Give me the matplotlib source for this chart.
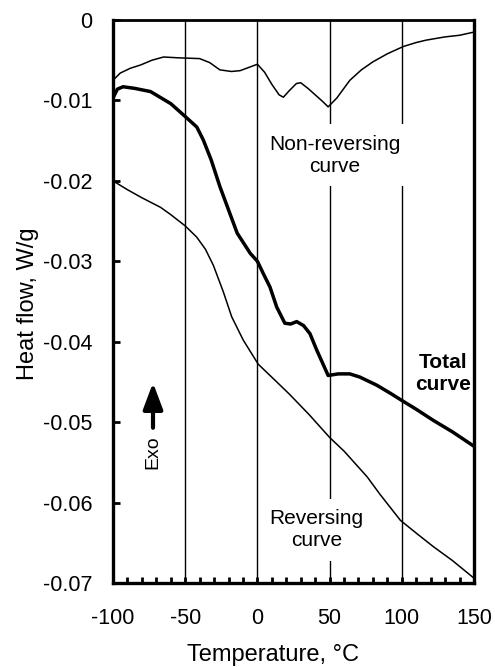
import numpy as np
import matplotlib
matplotlib.use("Agg")
import matplotlib.pyplot as plt
from matplotlib.ticker import MultipleLocator

plt.rcParams['font.family'] = ['Liberation Sans', 'DejaVu Sans']
plt.rcParams['axes.unicode_minus'] = False

# modulated DSC run: temperature (deg C) and heat flow (W/g)
t_nonrev = [-100, -95, -88, -81, -73, -65, -55, -40, -33, -26, -18, -12, -6, 0,
            5, 10, 15, 18, 22, 27, 30, 35, 40, 45, 49, 55, 64, 72, 80, 90,
            101, 110, 117, 130, 140, 150]
hf_nonrev = [-0.0075, -0.0066, -0.0060, -0.0056, -0.0050, -0.0046, -0.0047,
             -0.0048, -0.0053, -0.0062, -0.0064, -0.0063, -0.0059, -0.0055,
             -0.0065, -0.0080, -0.0093, -0.0096, -0.0088, -0.0079, -0.0078,
             -0.0085, -0.0093, -0.0101, -0.0108, -0.0097, -0.0075, -0.0062,
             -0.0052, -0.0042, -0.0033, -0.0028, -0.0025, -0.0021, -0.0019,
             -0.0015]

t_total = [-100, -97, -93, -85, -74, -60, -50, -42, -37.5, -32, -26, -20, -14,
           -5, 0, 4, 8.7, 13.4, 19, 23, 27.2, 32, 36.4, 41, 49, 56, 64, 71,
           82.6, 92, 100, 110, 122, 135, 145, 150]
hf_total = [-0.0097, -0.0086, -0.0083, -0.0085, -0.0089, -0.0104, -0.0120,
            -0.0133, -0.0149, -0.0174, -0.0207, -0.0236, -0.0265, -0.0290,
            -0.0300, -0.0315, -0.0332, -0.0357, -0.0377, -0.0378, -0.0375,
            -0.0380, -0.0390, -0.0410, -0.0442, -0.0440, -0.0440, -0.0444,
            -0.0454, -0.0464, -0.0473, -0.0484, -0.0498, -0.0512, -0.0524,
            -0.0530]

t_rev = [-100, -90, -80, -67, -60, -50, -42, -36, -30.5, -23.6, -17.8, -9.8,
         0.6, 13.4, 22.6, 36, 50, 60, 76, 85, 99, 110, 122, 135, 150]
hf_rev = [-0.0200, -0.0211, -0.0221, -0.0233, -0.0242, -0.0256, -0.0270,
          -0.0285, -0.0305, -0.0338, -0.0369, -0.0398, -0.0428, -0.0450,
          -0.0466, -0.0491, -0.0519, -0.0536, -0.0568, -0.0590, -0.0622,
          -0.0638, -0.0655, -0.0672, -0.0694]

grid_t = [-50, 0, 50, 100]

fig = plt.figure(figsize=(4.95, 6.67), dpi=100)
ax = fig.add_axes([113 / 495, 1 - 583 / 667, 361 / 495, 563 / 667])

for t in grid_t:
    ax.axvline(t, color='black', lw=1.0, zorder=1)

ax.plot(t_nonrev, hf_nonrev, color='black', lw=1.1, zorder=2)
ax.plot(t_total, hf_total, color='black', lw=2.5, zorder=2)
ax.plot(t_rev, hf_rev, color='black', lw=1.1, zorder=2)

box = dict(boxstyle='square,pad=0.5', fc='white', ec='none')
ax.text(53.7, -0.0168, 'Non-reversing\ncurve', ha='center', va='center',
        fontsize=15, linespacing=1.2, bbox=box, zorder=4)
ax.text(41, -0.0634, 'Reversing\ncurve', ha='center', va='center',
        fontsize=15, linespacing=1.2, bbox=box, zorder=4)
ax.text(128.5, -0.0440, 'Total\ncurve', ha='center', va='center',
        fontsize=15, fontweight='bold', linespacing=1.2, zorder=4)

# exotherm direction
ax.annotate('', xy=(-72.3, -0.0451), xytext=(-72.3, -0.0507),
            arrowprops=dict(arrowstyle='-|>,head_length=0.8,head_width=0.3',
                            mutation_scale=20, lw=3, color='black',
                            shrinkA=0, shrinkB=0))
ax.text(-72.3, -0.0537, 'Exo', rotation=90, ha='center', va='center',
        fontsize=14)

ax.set_xlim(-100, 150)
ax.set_ylim(-0.07, 0)
ax.set_xticks([-100, -50, 0, 50, 100, 150])
ax.set_yticks(np.arange(-0.07, 0.001, 0.01))
ax.set_yticklabels(['-0.07', '-0.06', '-0.05', '-0.04', '-0.03', '-0.02',
                    '-0.01', '0'])
ax.xaxis.set_minor_locator(MultipleLocator(10))

ax.tick_params(axis='y', direction='in', length=5, width=2, pad=15,
               labelsize=15.5)
ax.tick_params(axis='x', which='both', direction='in', length=4, width=2,
               pad=18, labelsize=15.5)

for side in ['left', 'bottom', 'right']:
    ax.spines[side].set_linewidth(2.4)
ax.spines['top'].set_linewidth(2.0)

ax.set_xlabel('Temperature, \u00b0C', fontsize=17, va='center')
ax.xaxis.set_label_coords((273 - 113) / 361, -(655 - 583) / 563)
ax.set_ylabel('Heat flow, W/g', fontsize=17, va='center')
ax.yaxis.set_label_coords((28 - 113) / 361, (583 - 304) / 563)

fig.savefig('out.png', dpi=100)
